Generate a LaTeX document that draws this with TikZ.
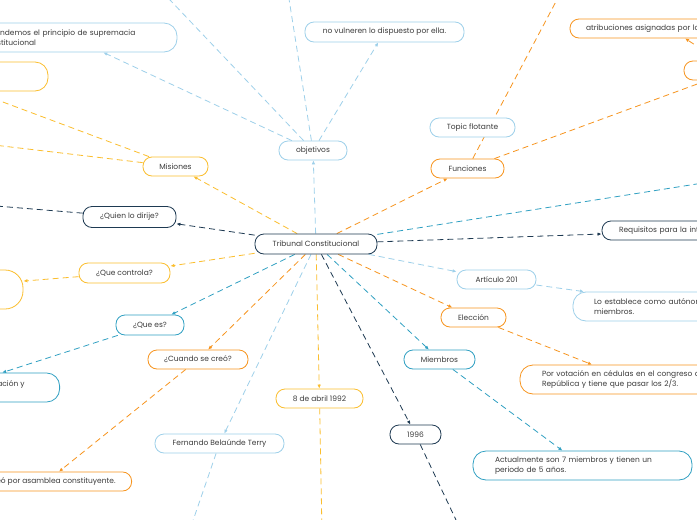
\documentclass[tikz,border=0pt]{standalone}
\usepackage{fontspec}
\setmainfont{Poppins}
\usepackage{tikz}
\usetikzlibrary{
    arrows.meta,
    positioning,
    backgrounds
}
\definecolor{mmNavy}{RGB}{30,58,82}
\definecolor{mmLight}{RGB}{158,208,234}
\definecolor{mmTeal}{RGB}{48,160,194}
\definecolor{mmOrange}{RGB}{247,148,30}
\definecolor{mmYellow}{RGB}{251,190,46}
\definecolor{mmText}{RGB}{60,60,60}
\tikzset{
  topic/.style  = {draw, rounded corners=9pt, line width=0.8pt, fill=white,
                   minimum height=19pt, inner sep=0pt, align=center,
                   text=mmText, font=\fontsize{7.5}{9.5}\selectfont},
  note/.style   = {topic, rounded corners=13pt, minimum height=29pt, align=left},
  link/.style   = {-{Latex[length=4pt,width=3.5pt]}, dash pattern=on 6pt off 4pt,
                   line width=0.8pt}
}

\begin{document}
\begin{tikzpicture}[x=1pt,y=-1pt]
\useasboundingbox (0,0) rectangle (697,520);
\clip (0,0) rectangle (697,520);
% free ends of links leaving the picture
\coordinate (offA) at (132,-40);
\coordinate (offB) at (286,-20);
\coordinate (offC) at (578,-40);
\coordinate (offD) at (-40,86);
\coordinate (offE) at (-40,141);
\coordinate (offF) at (-40,203);
\coordinate (offG) at (760,174);
\coordinate (offH) at (322.5,560);
\coordinate (offI) at (179.5,560);
\coordinate (offJ) at (475,560);
% central topic
\node[topic,draw=mmNavy,minimum width=122pt,minimum height=20pt] (trib) at (316,244) {Tribunal Constitucional};
% objetivos
\node[topic,draw=mmLight,minimum width=68pt] (obj) at (313,150.5) {objetivos};
\node[topic,draw=mmLight,minimum width=159pt,minimum height=20pt] (novul) at (384.5,32) {no vulneren lo dispuesto por ella.};
\node[note,draw=mmLight,minimum width=211pt,text width=177pt] (defen) at (71.5,37.5) {Defendemos el principio de supremacia\\constitucional};
% Misiones
\node[topic,draw=mmYellow,minimum width=65pt] (mis) at (175.5,166.5) {Misiones};
\node[note,draw=mmYellow,minimum width=120pt] (misa) at (-12,76.5) {};
% preguntas
\node[topic,draw=mmNavy,minimum width=93pt,minimum height=21pt] (quien) at (129.5,217) {¿Quien lo dirije?};
\node[topic,draw=mmYellow,minimum width=91pt,minimum height=20pt] (contr) at (124.5,273) {¿Que controla?};
\node[note,draw=mmYellow,rounded corners=18pt,minimum width=212pt,minimum height=39pt] (contra) at (-83,289.5) {};
\node[topic,draw=mmTeal,minimum width=68pt,minimum height=20pt] (quees) at (150,325) {¿Que es?};
\node[note,draw=mmTeal,anchor=east,inner xsep=35pt] (queesa) at (60,387.5) {Órgano supremo de interpretación y\\control constitucional.};
\node[topic,draw=mmOrange,minimum width=100pt] (cuando) at (198,359.5) {¿Cuando se creó?};
\node[topic,draw=mmOrange,anchor=east,inner xsep=16pt] (cuandoa) at (132,481.5) {Se creó por asamblea constituyente.};
% fechas y nombres
\node[topic,draw=mmYellow,minimum width=87pt] (fecha) at (319.5,398.5) {8 de abril 1992};
\node[topic,draw=mmLight,minimum width=129pt] (fer) at (219.5,443.5) {Fernando Belaúnde Terry};
\node[topic,draw=mmNavy,minimum width=51pt] (anio) at (415.5,434.5) {1996};
% Miembros, Elección, Artículo
\node[topic,draw=mmTeal,minimum width=71pt] (miem) at (439.5,359.5) {Miembros};
\node[note,draw=mmTeal,minimum width=219pt,text width=175pt] (miema) at (582.5,465.5) {Actualmente son 7 miembros y tienen un\\periodo de 5 años.};
\node[topic,draw=mmOrange,minimum width=65pt] (elec) at (473.5,317.5) {Elección};
\node[note,draw=mmOrange,minimum width=219pt,text width=175pt] (eleca) at (629.5,379.5) {Por votación en cédulas en el congreso de la\\República y tiene que pasar los 2/3.};
\node[topic,draw=mmLight,minimum width=79pt] (art) at (496.5,279.5) {Artículo 201};
\node[note,draw=mmLight,minimum width=237pt,text width=195pt] (arta) at (691.5,306.5) {Lo establece como autónomo e independiente\\miembros.};
\node[topic,draw=mmNavy,minimum width=200pt,text width=166pt,align=left] (req) at (702,230.5) {Requisitos para la integración};
% Funciones
\node[topic,draw=mmOrange,minimum width=73pt] (fun) at (467.5,168.5) {Funciones};
\node[topic,draw=mmOrange,minimum width=100pt] (funa) at (734,70.5) {};
\node[topic,draw=mmOrange,minimum width=200pt,text width=168pt,align=left] (funb) at (670,28.5) {atribuciones asignadas por la ley};
\node[topic,draw=mmLight,minimum width=85pt] (flot) at (472.5,127.5) {Topic flotante};
% links under the nodes
\begin{scope}[on background layer]
\fill[white] (0,0) rectangle (697,520);
\clip (0,0) rectangle (697,520);
\draw[link,mmLight] (trib) -- (obj);
\draw[link,mmLight] (obj) -- (novul);
\draw[link,mmLight] (obj) -- (defen);
\draw[link,mmLight] (obj) -- (offA);
\draw[link,mmLight] (obj) -- (offB);
\draw[link,mmYellow] (trib) -- (mis);
\draw[link,mmYellow] (mis) -- (offD);
\draw[link,mmYellow] (mis) -- (offE);
\draw[link,mmNavy] (trib) -- (quien);
\draw[link,mmNavy] (quien) -- (offF);
\draw[link,mmYellow] (trib) -- (contr);
\draw[link,mmYellow] (contr) -- (contra);
\draw[link,mmTeal] (trib) -- (quees);
\draw[link,mmTeal] (quees) -- (queesa);
\draw[link,mmOrange] (trib) -- (cuando);
\draw[link,mmOrange] (cuando) -- (cuandoa);
\draw[link,mmYellow] (trib) -- (fecha);
\draw[link,mmYellow] (fecha) -- (offH);
\draw[link,mmLight] (trib) -- (fer);
\draw[link,mmLight] (fer) -- (offI);
\draw[link,mmNavy] (trib) -- (anio);
\draw[link,mmNavy] (anio) -- (offJ);
\draw[link,mmTeal] (trib) -- (miem);
\draw[link,mmTeal] (miem) -- (miema);
\draw[link,mmOrange] (trib) -- (elec);
\draw[link,mmOrange] (elec) -- (eleca);
\draw[link,mmLight] (trib) -- (art);
\draw[link,mmLight] (art) -- (arta);
\draw[link,mmNavy] (trib) -- (req);
\draw[link,mmTeal] (trib) -- (offG);
\draw[link,mmOrange] (trib) -- (fun);
\draw[link,mmOrange] (fun) -- (offC);
\draw[link,mmOrange] (fun) -- (funa);
\draw[link,mmOrange] (funa) -- (funb);
\end{scope}
\end{tikzpicture}
\end{document}
